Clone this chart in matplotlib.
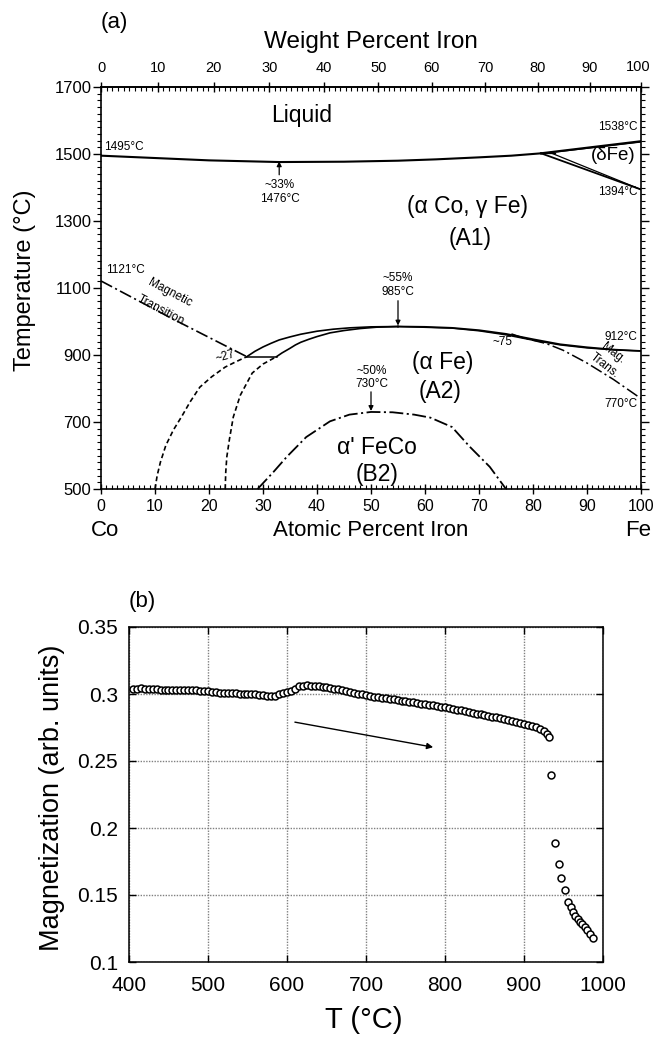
import matplotlib
matplotlib.use("Agg")
import matplotlib.pyplot as plt
from matplotlib.ticker import MultipleLocator, FixedLocator, FuncFormatter
from matplotlib.transforms import blended_transform_factory
import numpy as np

plt.rcParams['font.family'] = ['Liberation Sans', 'DejaVu Sans']
plt.rcParams['lines.scale_dashes'] = False
plt.rcParams['mathtext.default'] = 'regular'

# ---------------- (a) Co-Fe phase diagram data (atomic % Fe, T in C) ----------------
liquidus_at = [0, 10, 20, 33, 45, 55, 62, 70, 76, 81.5]
liquidus_T = [1495, 1488, 1481, 1476, 1477, 1480, 1484, 1490, 1495, 1502]
liquidus_fe_at = [81.5, 100]
liquidus_fe_T = [1502, 1538]
solidus_fe_at = [82.5, 100]
solidus_fe_T = [1503, 1536]
peritectic_at = [81.5, 84.0]
peritectic_T = [1502, 1502]
delta_gamma_at = [81.5, 100]
delta_gamma_T = [1502, 1394]
delta_low_at = [83.5, 100]
delta_low_T = [1502, 1394]

mag_co_at = [0, 13, 27]
mag_co_T = [1121, 1010, 895]
tie_at = [27, 32.5]
tie_T = [895, 895]

gamma_left_at = [27, 28.5, 30, 31.5, 33, 35, 37, 40, 43, 46, 50, 55]
gamma_left_T = [895, 911, 924, 935, 945, 954, 962, 971, 977, 981, 984, 985]
alpha_left_at = [32.5, 33.5, 35, 36, 37, 38.5, 40, 42.4, 45, 48, 51, 55]
alpha_left_T = [895, 906, 920, 930, 938, 947, 955, 966, 973, 979, 983, 985]
gamma_right_at = [55, 60, 65, 70, 75, 80, 85, 90, 95, 100]
gamma_right_T = [985, 984, 981, 974, 963, 947, 932, 923, 916, 912]
alpha_right_at = [55, 65, 70, 75, 80, 85, 90, 95, 100]
alpha_right_T = [985, 980, 972, 960, 944, 930, 921, 915, 912]

mag_fe_at = [76, 78.2, 82.5, 85.6, 89.9, 94.9, 100]
mag_fe_T = [963, 951, 934, 914, 877, 827, 770]

meta1_at = [10, 10.4, 11, 12, 13.4, 15, 16.5, 18.3, 20.5, 23, 25, 27]
meta1_T = [500, 540, 580, 630, 676, 718, 760, 804, 835, 864, 880, 895]
meta2_at = [23, 23.1, 23.3, 23.8, 24.5, 25.8, 28, 30, 32.5]
meta2_T = [500, 550, 596, 650, 715, 780, 846, 873, 895]

b2_at = [29, 32, 34.4, 38, 42.4, 46, 50, 54, 58, 61, 65, 68.3, 72, 75]
b2_T = [500, 552, 596, 655, 702, 722, 730, 729, 722, 713, 685, 626, 566, 500]

# ---------------- (b) magnetization data ----------------
T_main = [405, 410, 415, 420, 425, 430, 435, 440, 445, 450, 455, 460, 465, 470, 475,
          480, 485, 490, 495, 500, 505, 510, 515, 520, 525, 530, 535, 540, 545, 550,
          555, 560, 565, 570, 575, 580, 585, 590, 595, 600, 605, 610, 615, 620, 625,
          630, 635, 640, 645, 650, 655, 660, 665, 670, 675, 680, 685, 690, 695, 700,
          705, 710, 715, 720, 725, 730, 735, 740, 745, 750, 755, 760, 765, 770, 775,
          780, 785, 790, 795, 800, 805, 810, 815, 820, 825, 830, 835, 840, 845, 850,
          855, 860, 865, 870, 875, 880, 885, 890, 895, 900, 905, 910, 915, 920, 925,
          929, 932]
M_main = [0.3040, 0.3041, 0.3042, 0.3041, 0.3040, 0.3036, 0.3034, 0.3033, 0.3032, 0.3031,
          0.3031, 0.3030, 0.3029, 0.3029, 0.3028, 0.3027, 0.3027, 0.3026, 0.3025, 0.3023,
          0.3016, 0.3012, 0.3010, 0.3008, 0.3006, 0.3005, 0.3004, 0.3003, 0.3001, 0.3000,
          0.2999, 0.2997, 0.2994, 0.2989, 0.2984, 0.2982, 0.2987, 0.2997, 0.3004, 0.3012,
          0.3026, 0.3041, 0.3056, 0.3063, 0.3064, 0.3063, 0.3061, 0.3058, 0.3055, 0.3050,
          0.3045, 0.3040, 0.3035, 0.3029, 0.3023, 0.3016, 0.3010, 0.3003, 0.2997, 0.2991,
          0.2986, 0.2981, 0.2977, 0.2973, 0.2968, 0.2964, 0.2959, 0.2955, 0.2951, 0.2946,
          0.2942, 0.2937, 0.2933, 0.2928, 0.2924, 0.2919, 0.2915, 0.2910, 0.2905, 0.2900,
          0.2894, 0.2888, 0.2882, 0.2877, 0.2871, 0.2865, 0.2860, 0.2854, 0.2848, 0.2843,
          0.2837, 0.2831, 0.2825, 0.2819, 0.2812, 0.2806, 0.2799, 0.2792, 0.2784, 0.2776,
          0.2768, 0.2760, 0.2751, 0.2740, 0.2725, 0.2705, 0.2680]
T_drop = [934, 939, 944, 947, 952, 956, 959, 962, 965, 968, 971, 974, 977, 980, 984, 987]
M_drop = [0.2396, 0.189, 0.173, 0.163, 0.154, 0.145, 0.141, 0.137, 0.134, 0.132, 0.130,
          0.128, 0.126, 0.124, 0.121, 0.118]

b_xticks = [400, 500, 600, 700, 800, 900, 1000]
b_yticks = [0.1, 0.15, 0.2, 0.25, 0.3, 0.35]
b_ylabels = ['0.1', '0.15', '0.2', '0.25', '0.3', '0.35']

M_FE, M_CO = 55.845, 58.933


def at2wt(a):
    a = np.asarray(a, dtype=float)
    return 100.0 * a * M_FE / (a * M_FE + (100.0 - a) * M_CO)


def wt2at(w):
    w = np.asarray(w, dtype=float)
    return 100.0 * (w / M_FE) / (w / M_FE + (100.0 - w) / M_CO)


fig = plt.figure(figsize=(6.56, 10.42), dpi=100)

# =============== panel (a) ===============
ax = fig.add_axes([101 / 656, 1 - 489 / 1042, 540 / 656, 402 / 1042])
ax.set_xlim(0, 100)
ax.set_ylim(500, 1700)
for s in ax.spines.values():
    s.set_linewidth(1.2)

k = 'black'
ax.plot(liquidus_at, liquidus_T, color=k, lw=1.5)
ax.plot(liquidus_fe_at, liquidus_fe_T, color=k, lw=1.6)
ax.plot(solidus_fe_at, solidus_fe_T, color=k, lw=1.0)
ax.plot(peritectic_at, peritectic_T, color=k, lw=0.9)
ax.plot(delta_gamma_at, delta_gamma_T, color=k, lw=1.3)
ax.plot(delta_low_at, delta_low_T, color=k, lw=0.9)

ax.plot(mag_co_at, mag_co_T, color=k, lw=1.2, dashes=(9, 2.5, 1.5, 2.5))
ax.plot(tie_at, tie_T, color=k, lw=1.1)
ax.plot(gamma_left_at, gamma_left_T, color=k, lw=1.2)
ax.plot(alpha_left_at, alpha_left_T, color=k, lw=1.2)
ax.plot(gamma_right_at, gamma_right_T, color=k, lw=1.3)
ax.plot(alpha_right_at, alpha_right_T, color=k, lw=1.0)
ax.plot(mag_fe_at, mag_fe_T, color=k, lw=1.1, dashes=(9, 2.5, 1.5, 2.5))
ax.plot(meta1_at, meta1_T, color=k, lw=1.2, dashes=(3.5, 2.2))
ax.plot(meta2_at, meta2_T, color=k, lw=1.2, dashes=(3.5, 2.2))
ax.plot(b2_at, b2_T, color=k, lw=1.3, dashes=(10, 2.5, 1.5, 2.5))

# ticks
ax.xaxis.set_major_locator(MultipleLocator(10))
ax.xaxis.set_minor_locator(MultipleLocator(1))
ax.yaxis.set_major_locator(FixedLocator([500, 700, 900, 1100, 1300, 1500, 1700]))
ax.yaxis.set_minor_locator(MultipleLocator(20))
ax.tick_params(axis='x', which='major', direction='inout', length=7, width=1.0,
               labelsize=11.5, pad=4, bottom=True, top=False)
ax.tick_params(axis='x', which='minor', direction='in', length=3, width=0.8,
               bottom=True, top=False)
ax.tick_params(axis='y', which='major', direction='out', length=6, width=1.0,
               labelsize=12, pad=1, left=True, right=True)
ax.tick_params(axis='y', which='minor', direction='out', length=3, width=0.8,
               left=True, right=True)

sec = ax.secondary_xaxis('top', functions=(at2wt, wt2at))
sec.xaxis.set_major_locator(MultipleLocator(10))
sec.xaxis.set_minor_locator(MultipleLocator(1))
sec.xaxis.set_major_formatter(FuncFormatter(
    lambda v, p: '' if v > 99.5 else '%d' % round(v)))
sec.tick_params(which='major', direction='inout', length=7, width=1.0, labelsize=10.5, pad=5)
sec.tick_params(which='minor', direction='in', length=3, width=0.8)
sec.spines['top'].set_linewidth(1.2)
# last top tick label, nudged slightly left so it stays inside the figure
ax.text(99.4, 1.033, '100', transform=blended_transform_factory(ax.transData, ax.transAxes),
        ha='center', va='bottom', fontsize=10.5)

# axis labels
ax.text(0.5, 1.112, 'Weight Percent Iron', transform=ax.transAxes, ha='center',
        va='center', fontsize=17.5)
ax.text(-0.141, 0.52, 'Temperature (°C)', transform=ax.transAxes, ha='center',
        va='center', rotation=90, fontsize=17)
ax.text(0.024, 1.16, '(a)', transform=ax.transAxes, ha='center', va='center', fontsize=16)
bt = blended_transform_factory(ax.transData, ax.transAxes)
ax.text(0.7, -0.104, 'Co', transform=bt, ha='center', va='center', fontsize=16)
ax.text(50, -0.104, 'Atomic Percent Iron', transform=bt, ha='center', va='center', fontsize=16)
ax.text(99.5, -0.104, 'Fe', transform=bt, ha='center', va='center', fontsize=16)

# region labels
big = 16.5
small = 8.5
ax.text(37.2, 1616, 'Liquid', ha='center', va='center', fontsize=big)
ax.text(67.8, 1342, '(α Co, γ Fe)', ha='center', va='center', fontsize=big)
ax.text(68.3, 1249, '(A1)', ha='center', va='center', fontsize=big)
ax.text(94.8, 1497, '(δFe)', ha='center', va='center', fontsize=13.5)
ax.text(63.3, 879, '(α Fe)', ha='center', va='center', fontsize=big)
ax.text(62.8, 790, '(A2)', ha='center', va='center', fontsize=big)
ax.text(51.1, 625, "α' FeCo", ha='center', va='center', fontsize=big)
ax.text(51.1, 542, '(B2)', ha='center', va='center', fontsize=big)

# small annotations
ax.text(0.5, 1503, '1495°C', ha='left', va='bottom', fontsize=small)
ax.text(99.4, 1580, '1538°C', ha='right', va='center', fontsize=small)
ax.text(99.4, 1387, '1394°C', ha='right', va='center', fontsize=small)
ax.text(33.1, 1387, '~33%\n1476°C', ha='center', va='center', fontsize=small, linespacing=1.15)
ax.text(55, 1109, '~55%\n985°C', ha='center', va='center', fontsize=small, linespacing=1.15)
ax.text(50.2, 833, '~50%\n730°C', ha='center', va='center', fontsize=small, linespacing=1.15)
ax.text(99.4, 954, '912°C', ha='right', va='center', fontsize=small)
ax.text(99.4, 754, '770°C', ha='right', va='center', fontsize=small)
ax.text(1.0, 1154, '1121°C', ha='left', va='center', fontsize=small)
ax.text(74.4, 939, '~75', ha='center', va='center', fontsize=small)
ax.text(23.0, 894, '~27', ha='center', va='center', fontsize=small, rotation=15)
ax.text(12.7, 1086, 'Magnetic', ha='center', va='center', fontsize=small, rotation=-28)
ax.text(11.0, 1034, 'Transition', ha='center', va='center', fontsize=small, rotation=-28)
ax.text(94.8, 906, 'Mag.', ha='center', va='center', fontsize=small, rotation=-38)
ax.text(93.3, 867, 'Trans.', ha='center', va='center', fontsize=small, rotation=-38)

arr = dict(arrowstyle='-|>', color='black', lw=0.9, mutation_scale=7, shrinkA=0, shrinkB=0)
ax.annotate('', xy=(33, 1478), xytext=(33, 1438), arrowprops=arr)
ax.annotate('', xy=(55, 988), xytext=(55, 1062), arrowprops=arr)
ax.annotate('', xy=(50, 733), xytext=(50, 790), arrowprops=arr)

# =============== panel (b) ===============
ax2 = fig.add_axes([129 / 656, 1 - 962 / 1042, 474 / 656, 335 / 1042])
ax2.set_xlim(400, 1000)
ax2.set_ylim(0.1, 0.35)
ax2.set_xticks(b_xticks)
ax2.set_xticklabels([str(v) for v in b_xticks])
ax2.set_yticks(b_yticks)
ax2.set_yticklabels(b_ylabels)
ax2.tick_params(direction='in', length=5, width=1.0, labelsize=15, pad=10,
                top=True, right=True)
ax2.tick_params(axis='y', pad=8)
ax2.grid(True, color='#808080', linestyle=(0, (1, 1)), linewidth=1.0)
for s in ax2.spines.values():
    s.set_linewidth(1.1)

ax2.plot(T_main, M_main, linestyle='none', marker='o', ms=5.0, mfc='white',
         mec='black', mew=1.1)
ax2.plot(T_drop, M_drop, linestyle='none', marker='o', ms=5.0, mfc='white',
         mec='black', mew=1.1)
ax2.annotate('', xy=(785, 0.2603), xytext=(610, 0.279),
             arrowprops=dict(arrowstyle='-|>', color='black', lw=1.0,
                             mutation_scale=9, shrinkA=0, shrinkB=0))

ax2.text(-0.162, 0.49, 'Magnetization (arb. units)', transform=ax2.transAxes,
         ha='center', va='center', rotation=90, fontsize=19.5)
ax2.text(0.496, -0.173, 'T (°C)', transform=ax2.transAxes, ha='center',
         va='center', fontsize=21)
ax2.text(0.027, 1.075, '(b)', transform=ax2.transAxes, ha='center', va='center',
         fontsize=16)

fig.savefig('out.png', dpi=100)
